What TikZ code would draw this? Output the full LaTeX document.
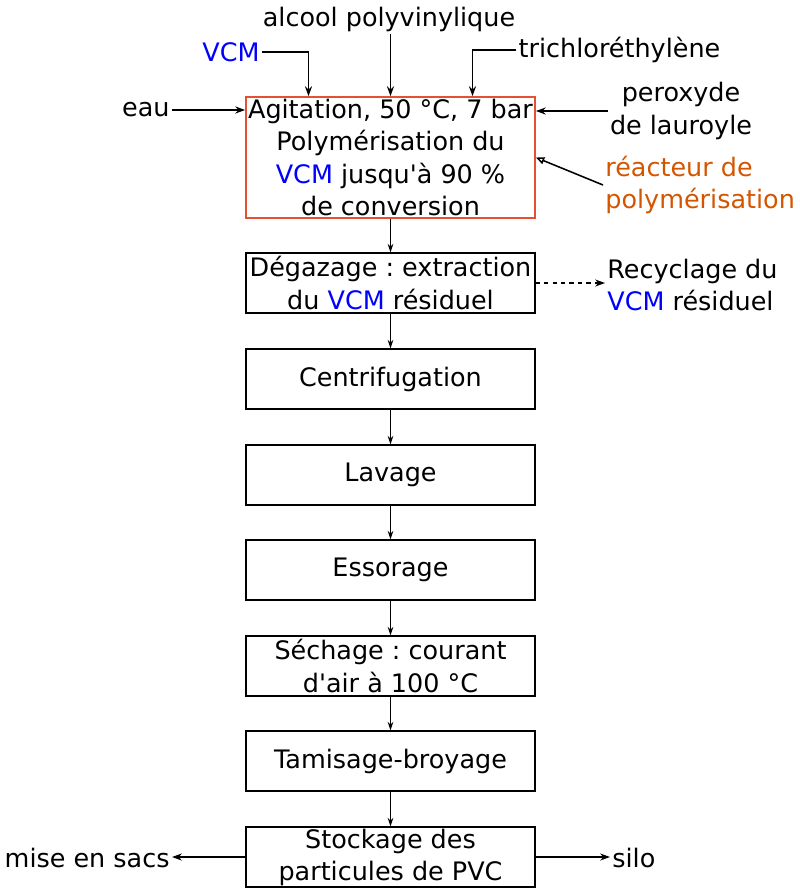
\documentclass[tikz,border=0pt]{standalone}
\usepackage{fontspec}
\setmainfont{DejaVu Sans}[Ligatures=TeXOff]
\usetikzlibrary{arrows.meta,calc}
\definecolor{vcmblue}{RGB}{0,0,255}
\definecolor{reacred}{RGB}{228,80,50}
\definecolor{reacorange}{RGB}{212,85,0}
\newcommand{\vcm}{\textcolor{vcmblue}{VCM}}
\frenchspacing

\begin{document}
\begin{tikzpicture}[x=0.025cm,y=-0.025cm,
	font=\fontsize{18.1}{22.8}\selectfont,
	etape/.style={draw,line width=0.9pt,minimum width=7.225cm,minimum height=1.5cm,inner sep=0pt,align=center},
	flux/.style={-{Stealth[length=6pt,width=4pt]},line width=0.9pt},
	entree/.style={-{Stealth[length=7pt,width=5pt]},line width=1.3pt},
	txt/.style={inner sep=1.5pt,align=center}]
	% Rahmen
	\useasboundingbox (0,0) rectangle (800,895);
	% Reaktor
	\node[etape,draw=reacred,line width=1.2pt,minimum height=3.025cm] (reac) at (390.5,157.5)
		{Agitation, 50 °C, 7 bar\\Polymérisation du\\\vcm{} jusqu'à 90 \%\\de conversion};
	% Etappen
	\node[etape] (degaz) at (390.5,283) {Dégazage : extraction\\du \vcm{} résiduel};
	\node[etape] (centri) at (390.5,379) {Centrifugation};
	\node[etape] (lavage) at (390.5,475) {Lavage};
	\node[etape] (essor) at (390.5,570) {Essorage};
	\node[etape] (sechage) at (390.5,666) {Séchage : courant\\d'air à 100 °C};
	\node[etape] (tamis) at (390.5,761) {Tamisage-broyage};
	\node[etape] (stock) at (390.5,857) {Stockage des\\particules de PVC};
	\foreach \a/\b in {reac/degaz,degaz/centri,centri/lavage,lavage/essor,essor/sechage,sechage/tamis,tamis/stock}
		\draw[flux] (\a) -- (\b);
	% Eintraege
	\node[txt] (alcool) at (389,19) {alcool polyvinylique};
	\node[txt] (vcm) at (231,52) {\vcm};
	\node[txt] (trichlo) at (619.5,50) {trichloréthylène};
	\node[txt,anchor=east] (eau) at (172,110) {eau};
	\node[txt] (perox) at (681,111) {peroxyde\\de lauroyle};
	\draw[entree] (alcool.south -| reac.north) -- (reac.north);
	\draw[entree] (vcm.east) -| ($(reac.north west)!0.218!(reac.north east)$);
	\draw[entree] (trichlo.west) -| ($(reac.north west)!0.782!(reac.north east)$);
	\draw[entree] (eau.east) -- (eau.east -| reac.west);
	\draw[entree] (perox.west) -- (perox.west -| reac.east);
	% Beschriftung Reaktor
	\node[txt,anchor=west,align=left,text=reacorange] (reacteur) at (603,185) {réacteur de\\polymérisation};
	\draw[-{Triangle[open,length=6pt,width=5pt]},line width=1.1pt] (reacteur.west) -- (reac.east);
	% Ausgaenge
	\node[txt,anchor=west,align=left] (recyc) at (605,285) {Recyclage du\\\vcm{} résiduel};
	\draw[entree,dashed,line width=1pt] (degaz.east) -- (degaz.east -| recyc.west);
	\node[txt,anchor=east] (sacs) at (172,858) {mise en sacs};
	\node[txt,anchor=west] (silo) at (610,858) {silo};
	\draw[entree] (stock.west) -- (stock.west -| sacs.east);
	\draw[entree] (stock.east) -- (stock.east -| silo.west);
\end{tikzpicture}
\end{document}
